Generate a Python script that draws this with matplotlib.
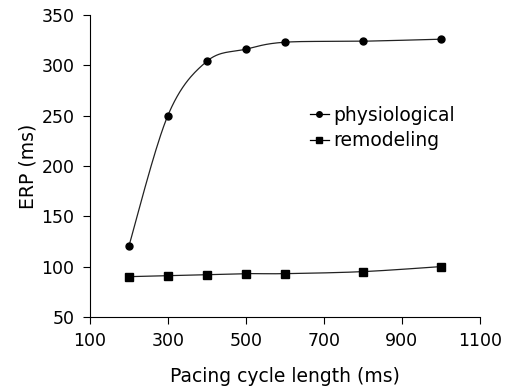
import numpy as np
import matplotlib.pyplot as plt

cycle_length = [200, 300, 400, 500, 600, 800, 1000]
physiological = [120, 250, 304, 316, 323, 324, 326]
remodeling = [90, 91, 92, 93, 93, 95, 100]


def smooth(x, y, n=30):
    # Catmull-Rom style smoothing, similar to Excel's smoothed line
    x = np.asarray(x, float)
    y = np.asarray(y, float)
    px = np.concatenate([[x[0]], x, [x[-1]]])
    py = np.concatenate([[y[0]], y, [y[-1]]])
    xs, ys = [], []
    t = np.linspace(0, 1, n)
    for i in range(1, len(px) - 2):
        p0, p1, p2, p3 = (np.array([px[j], py[j]]) for j in range(i - 1, i + 3))
        m1 = (p2 - p0) / 6
        m2 = (p3 - p1) / 6
        for tt in t:
            pt = ((1 - tt) ** 3 * p1 + 3 * (1 - tt) ** 2 * tt * (p1 + m1)
                  + 3 * (1 - tt) * tt ** 2 * (p2 - m2) + tt ** 3 * p2)
            xs.append(pt[0])
            ys.append(pt[1])
    return xs, ys


fig = plt.figure(figsize=(5.1, 3.86), dpi=100)
ax = fig.add_axes([0.176, 0.179, 0.765, 0.782])

sx, sy = smooth(cycle_length, physiological)
ax.plot(sx, sy, color='#222222', linewidth=0.9)
ax.plot(cycle_length, physiological, 'o', color='black', markersize=5)
sx, sy = smooth(cycle_length, remodeling)
ax.plot(sx, sy, color='#222222', linewidth=0.9)
ax.plot(cycle_length, remodeling, 's', color='black', markersize=6)

# legend proxies
ax.plot([], [], '-o', color='black', markersize=4, linewidth=0.9, label='physiological')
ax.plot([], [], '-s', color='black', markersize=5, linewidth=0.9, label='remodeling')
ax.legend(loc='upper left', bbox_to_anchor=(0.54, 0.73), frameon=False,
          fontsize=13.5, handlelength=1.0, handletextpad=0.25, labelspacing=0.35,
          borderpad=0)

ax.set_xlim(100, 1100)
ax.set_ylim(50, 350)
ax.set_xticks([100, 300, 500, 700, 900, 1100])
ax.set_yticks([50, 100, 150, 200, 250, 300, 350])
ax.spines['top'].set_visible(False)
ax.spines['right'].set_visible(False)
ax.tick_params(direction='out', length=5, labelsize=12.5, pad=6)
ax.set_xlabel('Pacing cycle length (ms)', fontsize=13.5, labelpad=12)
ax.set_ylabel('ERP (ms)', fontsize=13.5, labelpad=3)

fig.savefig('out.png', dpi=100)
